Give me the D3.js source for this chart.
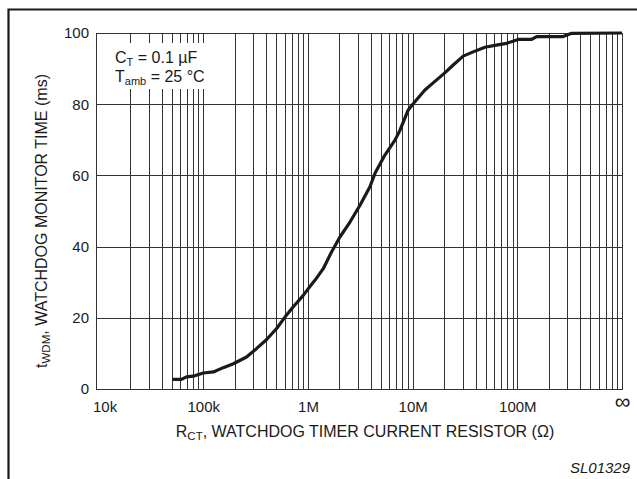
<!DOCTYPE html>
<html>
<head>
<meta charset="utf-8">
<script src="https://cdn.jsdelivr.net/npm/d3@7"></script>
<style>
  body { margin: 0; background: #fff; }
  svg { display: block; font-family: "Liberation Sans", Arial, sans-serif; }
</style>
</head>
<body>
<div id="chart"></div>
<script>
// resistor values (ohm), 1e9 stands for the "infinity" position
var rct = [50.6e3, 62e3, 69e3, 80e3, 100e3, 125e3, 155e3, 194e3, 259e3, 324e3, 403e3, 502e3,
    603e3, 724e3, 902e3, 1.04e6, 1.17e6, 1.40e6, 1.68e6, 2.02e6, 2.52e6, 3.14e6, 3.91e6, 4.37e6,
    5.43e6, 6.78e6, 7.57e6, 9.08e6, 10.5e6, 13.1e6, 15.7e6, 20.3e6, 24.4e6, 30.4e6, 37.9e6,
    49e6, 63e6, 79e6, 102e6, 137e6, 153e6, 274e6, 330e6, 1e9];
// watchdog monitor time (ms)
var twdm = [2.7, 2.7, 3.4, 3.6, 4.5, 4.8, 6.0, 7.1, 9.0, 11.4, 13.9, 17.0,
    20.2, 23.1, 26.3, 28.7, 30.6, 33.8, 38.5, 42.7, 46.9, 51.6, 56.8, 60.6,
    65.7, 69.9, 72.7, 78.4, 80.7, 84.0, 86.0, 88.8, 91.0, 93.5, 94.7,
    96.0, 96.6, 97.1, 98.2, 98.2, 99.0, 99.0, 99.9, 100];

var xTicks = [1e4, 1e5, 1e6, 1e7, 1e8, 1e9];
var xTickLabels = ['10k', '100k', '1M', '10M', '100M', '\u221E'];
var yTicks = [0, 20, 40, 60, 80, 100];

var width = 637, height = 479;
var plot = {left: 96, right: 622, top: 33, bottom: 389};

var svg = d3.select('#chart').append('svg')
    .attr('width', width)
    .attr('height', height);

var x = d3.scaleLog().domain([1e4, 1e9]).range([98.6, 622]);
var y = d3.scaleLinear().domain([0, 100]).range([plot.bottom, plot.top]);

// outer frame (clipped at right and bottom)
svg.append('path')
    .attr('d', `M8.5,${height + 2} V9.5 H${width + 2}`)
    .attr('fill', 'none')
    .attr('stroke', '#1a1a1a')
    .attr('stroke-width', 2.2);

// vertical grid: 2..9 in each decade plus the decade lines
var minor = [];
xTicks.forEach(function(d, i) {
    if (i > 0) minor.push(d);
    if (i < xTicks.length - 1) for (var k = 2; k <= 9; k++) minor.push(d * k);
});

var grid = svg.append('g').attr('stroke', '#333').attr('stroke-width', 1);
grid.selectAll('line.v')
    .data(minor)
    .enter().append('line')
    .attr('class', 'v')
    .attr('x1', d => Math.round(x(d)) + 0.5)
    .attr('x2', d => Math.round(x(d)) + 0.5)
    .attr('y1', plot.top)
    .attr('y2', plot.bottom);

grid.selectAll('line.h')
    .data(yTicks)
    .enter().append('line')
    .attr('class', 'h')
    .attr('x1', plot.left)
    .attr('x2', plot.right + 1)
    .attr('y1', d => Math.round(y(d)) + 0.5)
    .attr('y2', d => Math.round(y(d)) + 0.5);

// left frame
grid.append('line')
    .attr('x1', plot.left + 0.5).attr('x2', plot.left + 0.5)
    .attr('y1', plot.top).attr('y2', plot.bottom + 0.5);

// annotation box
svg.append('rect')
    .attr('x', plot.left + 1)
    .attr('y', 43)
    .attr('width', 113)
    .attr('height', 46)
    .attr('fill', '#fff');

var note = svg.append('g').attr('font-size', 16).attr('fill', '#1a1a1a');
var t1 = note.append('text').attr('x', 115).attr('y', 63);
t1.append('tspan').text('C');
t1.append('tspan').attr('font-size', 11).attr('dy', 3).text('T');
t1.append('tspan').attr('dy', -3).text(' = 0.1 \u00B5F');
var t2 = note.append('text').attr('x', 115).attr('y', 82);
t2.append('tspan').text('T');
t2.append('tspan').attr('font-size', 11).attr('dy', 3).text('amb');
t2.append('tspan').attr('dy', -3).text(' = 25 \u00B0C');

// curve
var line = d3.line()
    .x(function(d, i) { return x(rct[i]); })
    .y(function(d) { return y(d); });

svg.append('path')
    .datum(twdm)
    .attr('d', line)
    .attr('fill', 'none')
    .attr('stroke', '#1a1a1a')
    .attr('stroke-width', 3.2)
    .attr('stroke-linejoin', 'round');

// axes
var xAxis = svg.append('g')
    .attr('transform', `translate(0,${plot.bottom})`)
    .call(d3.axisBottom(x).tickValues(xTicks).tickSize(0)
        .tickFormat((d, i) => xTickLabels[i]));
xAxis.select('.domain').remove();
xAxis.selectAll('text')
    .attr('font-size', 15)
    .attr('fill', '#1a1a1a')
    .attr('font-family', null)
    .attr('dy', null)
    .attr('y', 23);
xAxis.selectAll('.tick').filter((d, i) => i === 0).select('text').attr('dx', 6);
xAxis.selectAll('.tick').filter((d, i) => i === xTicks.length - 1).select('text')
    .attr('font-size', 22).attr('y', 20);

var yAxis = svg.append('g')
    .attr('transform', `translate(${plot.left},0)`)
    .call(d3.axisLeft(y).tickValues(yTicks).tickSize(0).tickPadding(7));
yAxis.select('.domain').remove();
yAxis.selectAll('text')
    .attr('font-size', 15)
    .attr('fill', '#1a1a1a')
    .attr('font-family', null);

// axis titles
var xt = svg.append('text')
    .attr('x', 365).attr('y', 437)
    .attr('text-anchor', 'middle')
    .attr('font-size', 16)
    .attr('fill', '#1a1a1a');
xt.append('tspan').text('R');
xt.append('tspan').attr('font-size', 11.5).attr('dy', 3).text('CT');
xt.append('tspan').attr('dy', -3).text(', WATCHDOG TIMER CURRENT RESISTOR (\u03A9)');

var yt = svg.append('text')
    .attr('transform', 'translate(47,221) rotate(-90)')
    .attr('text-anchor', 'middle')
    .attr('font-size', 16)
    .attr('fill', '#1a1a1a');
yt.append('tspan').text('t');
yt.append('tspan').attr('font-size', 11.5).attr('dy', 3).text('WDM');
yt.append('tspan').attr('dy', -3).text(', WATCHDOG MONITOR TIME (ms)');

svg.append('text')
    .attr('x', 630).attr('y', 473)
    .attr('text-anchor', 'end')
    .attr('font-size', 15)
    .attr('font-style', 'italic')
    .attr('fill', '#1a1a1a')
    .text('SL01329');
</script>
</body>
</html>
